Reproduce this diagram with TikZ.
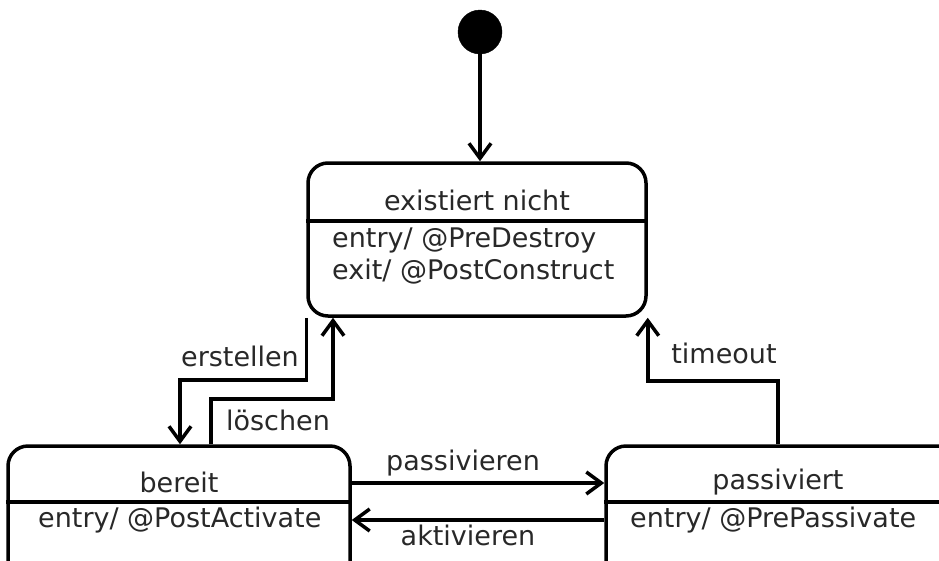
\documentclass[tikz,border=0pt]{standalone}
\usepackage{fontspec}
\setmainfont{DejaVu Sans}
\usetikzlibrary{arrows.meta}
\definecolor{txt_grey}{RGB}{40, 40, 40}
\tikzstyle{state}=[rectangle,rounded corners=20pt,draw=black,
  line width=3.5pt,inner sep=0pt]
\tikzstyle{init}=[circle,fill=black,draw=black,inner sep=0pt,minimum size=44pt]
\tikzstyle{lbl}=[inner sep=0pt,text=txt_grey,font=\fontsize{27}{32}\selectfont]
\tikzstyle{trans}=[line width=3.5pt,-{Straight Barb[length=15pt,width=22pt,line width=3.5pt]}]

\begin{document}
\begin{tikzpicture}[x=1pt,y=-1pt]
    \clip (0,0) rectangle (939,560);
    \node [style=init] (start) at (480,32) {};
    \node [style=state,minimum width=338pt,minimum height=153pt] (exist) at (477,239.5) {};
    \node [style=state,minimum width=342pt,minimum height=154pt] (bereit) at (179,523) {};
    \node [style=state,minimum width=354pt,minimum height=154pt] (passiv) at (783,523) {};
    \draw [line width=3.5pt] (exist.west |- 0,221) -- (exist.east |- 0,221);
    \draw [line width=3.5pt] (bereit.west |- 0,502) -- (bereit.east |- 0,502);
    \draw [line width=3.5pt] (passiv.west |- 0,502) -- (passiv.east |- 0,502);
    \node [style=lbl] (existname) at (477,200) {existiert nicht};
    \node [style=lbl,anchor=west] (existentry) at (332,240) {entry/ @PreDestroy};
    \node [style=lbl,anchor=west] (existexit) at (332,272) {exit/ @PostConstruct};
    \node [style=lbl] (bereitname) at (179,482) {bereit};
    \node [style=lbl,anchor=west] (bereitentry) at (38,520) {entry/ @PostActivate};
    \node [style=lbl] (passivname) at (778,482) {passiviert};
    \node [style=lbl,anchor=west] (passiventry) at (630,520) {entry/ @PrePassivate};
    \coordinate (erstA) at (180,380);
    \coordinate (loeschA) at (211,399);
    \coordinate (loeschB) at (333,399);
    \coordinate (timeA) at (778,381);
    \draw [style=trans] (start) to (exist.north -| start);
    \draw [style=trans] (exist.south west) |- (erstA) -- (erstA |- bereit.north);
    \draw [style=trans] (bereit.north -| loeschA) |- (loeschB) -- (loeschB |- exist.south);
    \draw [style=trans] (passiv.north -| timeA) -- (timeA) -| (exist.south east);
    \draw [style=trans] ([yshift=40pt]bereit.east) to ([yshift=40pt]passiv.west);
    \draw [style=trans] ([yshift=3pt]passiv.west) to ([yshift=3pt]bereit.east);
    \node [style=lbl] (erstlbl) at (240,356) {erstellen};
    \node [style=lbl] (loeschlbl) at (278,420) {löschen};
    \node [style=lbl] (timelbl) at (724,353) {timeout};
    \node [style=lbl] (passlbl) at (463,463) {passivieren};
    \node [style=lbl] (aktivlbl) at (468,535) {aktivieren};
  \end{tikzpicture}
\end{document}
